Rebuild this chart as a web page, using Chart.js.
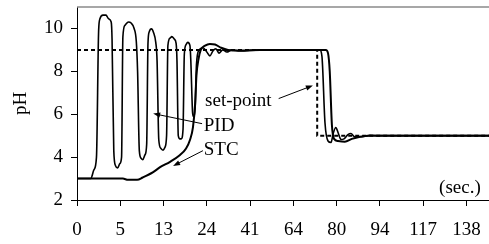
<!DOCTYPE html>
<html>
<head>
<meta charset="utf-8">
<script src="https://cdn.jsdelivr.net/npm/chart.js@4/dist/chart.umd.min.js"></script>
<style>
  html, body { margin: 0; padding: 0; background: #fff; }
  #wrap { width: 489px; height: 244px; }
</style>
</head>
<body>
<div id="wrap"><canvas id="phChart"></canvas></div>
<script>
// tick labels of the time axis (sec.), one per equally spaced category tick
const xLabels = ["0", "5", "13", "24", "41", "64", "80", "94", "117", "138"];

// x is measured in tick positions (0 = first tick "0", 9 = last tick "138")
const setPointX = [0, 5.55, 5.55, 9.52];
const setPointY = [9, 9, 5, 5];

const pidX = [0, 0.32, 0.39, 0.45, 0.50, 0.53, 0.60, 0.67, 0.73, 0.79, 0.81, 0.85, 0.89, 0.94, 0.99,
    1.03, 1.06, 1.11, 1.19, 1.25, 1.32, 1.37, 1.40, 1.44, 1.48, 1.52, 1.57, 1.61, 1.64, 1.67, 1.72,
    1.77, 1.82, 1.85, 1.89, 1.94, 1.99, 2.03, 2.07, 2.10, 2.15, 2.19, 2.25, 2.29, 2.31, 2.34, 2.38,
    2.41, 2.45, 2.48, 2.52, 2.56, 2.61, 2.63, 2.67, 2.69, 2.73, 2.76, 2.82, 2.91, 3.00, 3.07, 3.14,
    3.21, 3.28, 3.37, 3.46, 3.58, 3.76, 4.23, 5.61, 5.66, 5.73, 5.80, 5.87, 5.92, 5.98, 6.04, 6.10,
    6.17, 6.26, 6.33, 6.42, 6.58, 6.77, 7.00, 9.52];
const pidY = [3.0, 3.0, 3.4, 4.0, 9.9, 10.45, 10.62, 10.62, 10.45, 10.3, 9.5, 4.3, 3.6, 3.5, 3.7,
    4.0, 9.6, 10.15, 10.3, 10.25, 10.0, 9.4, 8.0, 4.3, 3.95, 3.88, 4.1, 4.6, 9.3, 9.85, 9.98,
    9.8, 9.35, 8.5, 4.8, 4.4, 4.32, 4.45, 5.0, 9.2, 9.55, 9.62, 9.5, 9.3, 8.5, 5.0, 4.85,
    4.85, 5.3, 8.8, 9.25, 9.35, 9.2, 8.5, 6.1, 5.9, 6.3, 8.3, 9.0, 9.1, 8.9, 8.72, 8.95,
    9.05, 8.85, 9.0, 8.9, 9.0, 8.95, 9.0, 9.0, 8.7, 5.6, 4.75, 4.68, 5.1, 5.38, 5.1, 4.82,
    4.85, 5.05, 5.1, 4.95, 4.95, 5.02, 5.0, 5.0];

const stcX = [0, 1.06, 1.18, 1.39, 1.52, 1.76, 1.92, 2.15, 2.38, 2.52, 2.61, 2.68, 2.73, 2.76, 2.81,
    2.86, 2.96, 3.07, 3.19, 3.33, 3.49, 3.76, 4.23, 5.75, 5.80, 5.84, 5.89, 5.94, 6.03, 6.19, 6.35,
    6.54, 6.77, 9.52];
const stcY = [3.0, 3.0, 2.94, 2.94, 3.05, 3.3, 3.53, 3.78, 4.1, 4.4, 4.8, 5.4, 6.5, 7.8, 8.6,
    9.0, 9.2, 9.28, 9.25, 9.1, 9.0, 8.97, 9.0, 9.0, 8.85, 8.0, 5.5, 4.85, 4.75, 4.72, 4.85,
    4.95, 5.0, 5.0];

const toPoints = (xs, ys) => xs.map((x, i) => ({ x: x, y: ys[i] }));

const FONT = '"Liberation Serif", "Times New Roman", serif';

// text labels with arrows, placed in data coordinates
const notes = [
    { text: "set-point", at: [2.96, 6.40], from: [4.66, 6.73], to: [5.45, 7.34] },
    { text: "PID", at: [2.93, 5.23], from: [2.89, 5.56], to: [1.76, 6.03] },
    { text: "STC", at: [2.93, 4.11], from: [2.91, 4.30], to: [2.22, 3.59] },
];

const drawArrow = (ctx, x0, y0, x1, y1) => {
    const ang = Math.atan2(y1 - y0, x1 - x0);
    const len = 7, half = 2.6;
    ctx.beginPath();
    ctx.moveTo(x0, y0);
    ctx.lineTo(x1 - Math.cos(ang) * len * 0.8, y1 - Math.sin(ang) * len * 0.8);
    ctx.stroke();
    ctx.beginPath();
    ctx.moveTo(x1, y1);
    ctx.lineTo(x1 - Math.cos(ang) * len - Math.sin(ang) * half, y1 - Math.sin(ang) * len + Math.cos(ang) * half);
    ctx.lineTo(x1 - Math.cos(ang) * len + Math.sin(ang) * half, y1 - Math.sin(ang) * len - Math.cos(ang) * half);
    ctx.closePath();
    ctx.fill();
};

const decorPlugin = {
    id: "decor",
    afterDraw(chart) {
        const { ctx, chartArea, scales } = chart;
        const x = scales.x, y = scales.y;
        ctx.save();
        // grey top frame line
        ctx.strokeStyle = "#8a8a8a";
        ctx.lineWidth = 1.5;
        ctx.beginPath();
        ctx.moveTo(chartArea.left, chartArea.top);
        ctx.lineTo(chartArea.right, chartArea.top);
        ctx.stroke();

        ctx.fillStyle = "#000";
        ctx.strokeStyle = "#000";
        ctx.lineWidth = 1;
        ctx.font = "19px " + FONT;
        ctx.textBaseline = "alphabetic";
        ctx.textAlign = "left";
        notes.forEach((n) => {
            ctx.fillText(n.text, x.getPixelForValue(n.at[0]), y.getPixelForValue(n.at[1]));
            drawArrow(ctx,
                x.getPixelForValue(n.from[0]), y.getPixelForValue(n.from[1]),
                x.getPixelForValue(n.to[0]), y.getPixelForValue(n.to[1]));
        });
        ctx.textAlign = "right";
        ctx.fillText("(sec.)", x.getPixelForValue(9.33), y.getPixelForValue(2.33));
        ctx.restore();
    },
};

const config = {
    type: "line",
    data: {
        datasets: [
            {
                label: "set-point",
                data: toPoints(setPointX, setPointY),
                borderColor: "#000",
                borderWidth: 2,
                borderDash: [4, 3],
                tension: 0,
            },
            {
                label: "PID",
                data: toPoints(pidX, pidY),
                borderColor: "#000",
                borderWidth: 1.6,
                cubicInterpolationMode: "monotone",
            },
            {
                label: "STC",
                data: toPoints(stcX, stcY),
                borderColor: "#000",
                borderWidth: 2,
                cubicInterpolationMode: "monotone",
            },
        ],
    },
    options: {
        responsive: true,
        maintainAspectRatio: false,
        animation: false,
        layout: { padding: { top: 7, right: 0, left: 0, bottom: 0 } },
        plugins: {
            legend: { display: false },
            tooltip: { enabled: false },
        },
        elements: {
            point: { radius: 0 },
        },
        scales: {
            x: {
                type: "linear",
                min: 0,
                max: 9.52,
                afterFit: (s) => { s.height = 44; s.paddingLeft = 0; s.paddingRight = 0; },
                grid: { drawOnChartArea: false, drawTicks: true, tickLength: 6, color: "#000" },
                border: { display: true, color: "#000", width: 1 },
                ticks: {
                    stepSize: 1,
                    includeBounds: false,
                    autoSkip: false,
                    maxRotation: 0,
                    padding: 13,
                    color: "#000",
                    font: { family: FONT, size: 19 },
                    callback: (v) => xLabels[v],
                },
            },
            y: {
                min: 2,
                max: 11,
                afterFit: (s) => { s.width = 77; s.paddingTop = 0; s.paddingBottom = 0; },
                grid: { drawOnChartArea: false, drawTicks: true, tickLength: 6, color: "#000" },
                border: { display: true, color: "#000", width: 1 },
                ticks: {
                    stepSize: 2,
                    includeBounds: false,
                    padding: 8,
                    color: "#000",
                    font: { family: FONT, size: 19 },
                },
                title: {
                    display: true,
                    text: "pH",
                    color: "#000",
                    font: { family: FONT, size: 19 },
                    padding: { top: 10, bottom: 0 },
                },
            },
        },
    },
    plugins: [decorPlugin],
};

new Chart(document.getElementById("phChart"), config);
</script>
</body>
</html>
